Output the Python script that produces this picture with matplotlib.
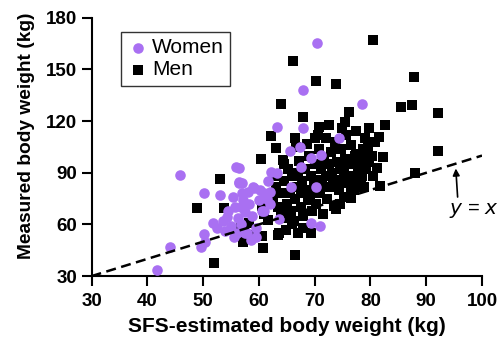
import matplotlib.pyplot as plt

plt.rcParams['font.family'] = ['Liberation Sans', 'DejaVu Sans']

# SFS-estimated vs measured body weight (kg)
women_x = [41.7, 44.0, 45.9, 49.7, 50.3, 50.1, 50.1, 51.8, 53.0, 54.2, 55.3, 55.6,
           55.9, 56.4, 56.5, 56.5, 57.1, 58.6, 59.2, 61.6, 62.2, 63.2, 63.2, 63.7,
           65.5, 65.8, 67.4, 67.6, 68.0, 68.0, 69.4, 69.4, 70.3, 70.5, 71.0, 71.1,
           74.3, 78.5, 53.5, 54.5, 55.0, 55.8, 56.2, 56.8, 57.5, 57.8, 58.2, 58.8,
           59.5, 60.0, 60.5, 61.0, 57.0, 58.0, 60.2, 61.5, 62.0, 59.5, 52.5, 54.0,
           56.0, 57.5, 57.0, 59.0, 62.0, 56.8, 61.0]
women_y = [33.5, 46.7, 88.7, 47.0, 50.0, 54.6, 78.0, 60.6, 77.0, 64.5, 76.0, 52.8,
           93.5, 83.8, 92.7, 84.8, 74.1, 50.9, 80.9, 85.3, 90.6, 89.6, 116.7, 62.9,
           102.8, 81.5, 104.7, 93.5, 138.0, 115.8, 98.7, 61.0, 81.5, 165.3, 59.1, 100.3,
           110.0, 129.9, 62.0, 68.0, 59.0, 70.0, 64.0, 60.0, 67.0, 55.0, 72.0, 65.0,
           58.0, 74.0, 68.0, 78.0, 78.0, 79.0, 80.0, 75.0, 79.0, 53.0, 58.0, 56.0,
           55.0, 55.0, 84.0, 82.0, 72.0, 70.0, 68.0]

men_x = [49.0, 51.9, 53.0, 53.8, 56.8, 57.1, 58.3, 58.9, 60.4, 60.6, 60.7, 61.6,
         62.2, 63.1, 63.4, 63.7, 64.0, 64.3, 64.9, 66.1, 66.5, 66.5, 67.0, 68.0,
         69.4, 70.0, 70.2, 70.7, 72.0, 73.8, 73.8, 74.9, 75.5, 76.1, 76.5, 77.4,
         79.8, 80.5, 81.5, 81.8, 82.3, 82.6, 85.4, 87.5, 87.8, 88.0, 92.1, 92.2,
         66.0, 68.0, 60.5, 61.0,
         62.5, 63.0, 63.5, 62.8, 64.0, 63.8,
         64.5, 65.0, 65.2, 64.8, 65.5, 66.0, 65.8, 64.5,
         66.5, 66.8, 67.0, 66.3, 67.5, 67.2, 67.8, 66.7, 67.5, 68.0,
         68.3, 68.5, 68.8, 69.0, 69.3, 69.5, 68.6, 69.8, 69.2, 70.0,
         70.3, 70.5, 70.8, 71.0, 71.2, 71.5, 71.7, 71.3, 70.6, 72.0,
         72.3, 72.5, 72.8, 73.0, 73.2, 73.5, 73.7, 73.3, 72.6, 74.0,
         74.3, 74.5, 74.8, 75.0, 75.2, 75.5, 75.7, 75.3, 74.6, 76.0,
         76.3, 76.5, 76.8, 77.0, 77.3, 77.5, 77.8, 76.6, 77.2,
         78.2, 78.4, 78.6, 78.8, 79.0, 78.5, 79.2, 78.3, 79.5, 79.8,
         80.3, 80.8, 81.2, 80.5]
men_y = [69.7, 37.7, 86.2, 69.3, 57.7, 50.0, 60.6, 53.8, 97.8, 53.1, 46.1, 62.5,
         111.3, 104.2, 53.8, 54.8, 129.9, 97.4, 56.7, 154.8, 110.0, 42.2, 55.2, 122.3,
         54.8, 110.0, 143.6, 116.7, 110.0, 141.3, 68.7, 115.8, 119.3, 125.4, 75.1, 101.2,
         116.1, 167.0, 110.9, 82.5, 98.9, 117.5, 128.0, 129.1, 145.7, 90.0, 102.6, 124.8,
         60.0, 58.0, 71.0, 66.0,
         75.0, 82.0, 70.0, 88.0, 66.0, 78.0,
         85.0, 72.0, 92.0, 64.0, 78.0, 88.0, 68.0, 95.0,
         75.0, 82.0, 90.0, 62.0, 70.0, 97.0, 85.0, 105.0, 78.0, 65.0,
         92.0, 80.0, 74.0, 100.0, 88.0, 68.0, 107.0, 83.0, 77.0, 95.0,
         72.0, 86.0, 104.0, 78.0, 92.0, 66.0, 98.0, 83.0, 112.0, 88.0,
         75.0, 95.0, 82.0, 102.0, 90.0, 71.0, 108.0, 86.0, 118.0, 96.0,
         80.0, 92.0, 104.0, 86.0, 76.0, 98.0, 112.0, 90.0, 72.0, 84.0,
         95.0, 106.0, 88.0, 80.0, 100.0, 114.0, 92.0, 78.0, 85.0,
         95.0, 88.0, 104.0, 82.0, 110.0, 99.0, 92.0, 85.0, 105.0, 96.0,
         100.0, 108.0, 93.0, 88.0]

identity = [30, 100]

fig = plt.figure(figsize=(5.0, 3.43), dpi=100)
ax = fig.add_axes([0.183, 0.195, 0.781, 0.753])

ax.scatter(men_x, men_y, marker='s', s=52, color='black', linewidths=0,
           label='Men', zorder=2)
ax.scatter(women_x, women_y, marker='o', s=58, color='#a970f2', linewidths=0,
           label='Women', zorder=3)
ax.plot(identity, identity, color='black', lw=1.8, ls=(0, (4, 2.2)), zorder=4)

# identity line label with a short pointer up to the line
ax.annotate('$y$ = $x$', xy=(95.3, 92.5), xytext=(98.6, 68),
            ha='center', va='center', fontsize=14.5, annotation_clip=False,
            arrowprops=dict(arrowstyle='-|>', color='black', lw=1.2,
                            mutation_scale=10, shrinkA=1, shrinkB=0,
                            relpos=(0.17, 1.0)))

ax.set_xlim(30, 100)
ax.set_ylim(30, 180)
ax.set_xticks(range(30, 101, 10))
ax.set_yticks(range(30, 181, 30))
ax.set_xlabel('SFS-estimated body weight (kg)', fontsize=15, fontweight='bold',
              labelpad=5)
ax.set_ylabel('Measured body weight (kg)', fontsize=13.8, fontweight='bold')
ax.yaxis.set_label_coords(-0.145, 0.545)

for side in ['top', 'right']:
    ax.spines[side].set_visible(False)
for side in ['left', 'bottom']:
    ax.spines[side].set_linewidth(1.5)
ax.tick_params(width=1.5, length=7, labelsize=13.5)
ax.tick_params(axis='x', pad=5)
for lbl in ax.get_xticklabels() + ax.get_yticklabels():
    lbl.set_fontweight('bold')

handles, labels = ax.get_legend_handles_labels()
leg = ax.legend(handles[::-1], labels[::-1], loc='upper left',
                bbox_to_anchor=(0.075, 0.945), fontsize=15, frameon=True,
                fancybox=False, edgecolor='black', handletextpad=0.1,
                borderpad=0.3, labelspacing=0.15, handlelength=1.1,
                borderaxespad=0)
leg.get_frame().set_linewidth(1.0)

fig.savefig('out.png', dpi=100)
